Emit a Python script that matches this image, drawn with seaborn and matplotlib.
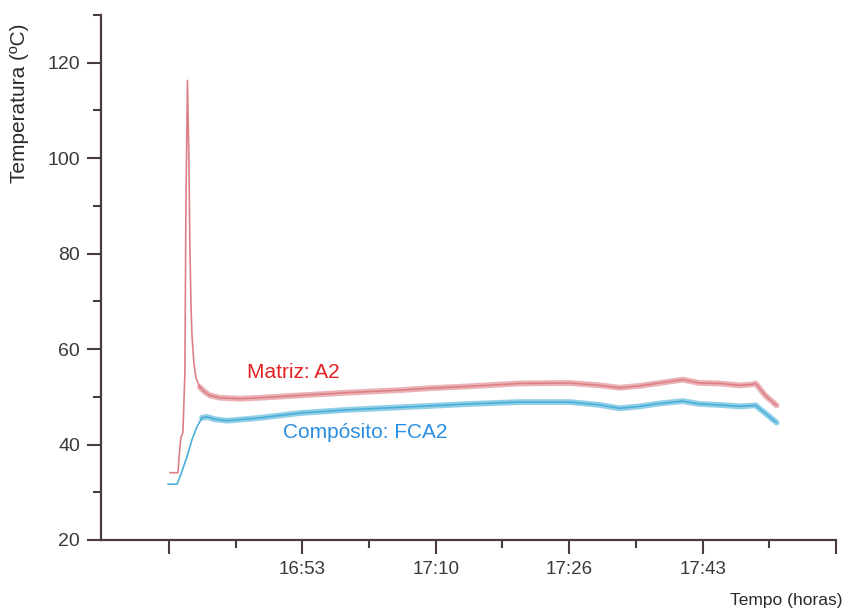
import matplotlib
matplotlib.use("Agg")
import matplotlib.pyplot as plt
from matplotlib.ticker import FixedLocator, MultipleLocator
import numpy as np
import pandas as pd
import seaborn as sns

# Time axis: minutes after 16:00
matriz_t = [36.79, 37.79, 37.92, 38.16, 38.41, 38.66, 38.79, 38.98, 39.16, 39.28,
            39.41, 39.54, 39.79, 40.04, 40.54, 41.16, 41.79, 43.03, 45.53, 48.03,
            53.02, 59.26, 65.51, 69.25, 74.25, 80.49, 86.73, 90.47, 92.97, 95.47,
            97.97, 100.84, 102.96, 105.46, 107.96, 109.46, 109.96, 111.21, 112.58]
matriz_temp = [34.1, 34.1, 37.0, 41.5, 42.5, 55.0, 90.0, 116.3, 100.0, 82.0,
               70.0, 63.0, 57.0, 54.0, 52.0, 51.0, 50.3, 49.8, 49.6, 49.8,
               50.3, 50.9, 51.4, 51.8, 52.2, 52.8, 52.9, 52.4, 51.9, 52.3,
               52.9, 53.6, 52.9, 52.8, 52.4, 52.6, 52.8, 50.2, 48.2]

composito_t = [36.54, 37.67, 38.04, 38.91, 39.54, 40.16, 40.79, 41.41, 42.41, 43.91,
               46.78, 48.03, 53.02, 59.26, 69.25, 74.25, 80.49, 86.73, 90.47, 92.97,
               95.47, 97.97, 100.84, 102.96, 105.46, 107.96, 109.96, 111.21, 112.58]
composito_temp = [31.7, 31.7, 33.2, 37.4, 41.0, 43.7, 45.6, 45.8, 45.3, 45.0,
                  45.4, 45.6, 46.6, 47.3, 48.1, 48.5, 48.9, 48.9, 48.3, 47.6,
                  48.0, 48.6, 49.1, 48.5, 48.3, 48.0, 48.2, 46.5, 44.6]

x_major = [36.667, 53.333, 70.0, 86.667, 103.333, 120.0]
x_labels = ["", "16:53", "17:10", "17:26", "17:43", ""]

df = pd.concat([
    pd.DataFrame({"t": matriz_t, "temp": matriz_temp, "amostra": "Matriz: A2"}),
    pd.DataFrame({"t": composito_t, "temp": composito_temp, "amostra": "Compósito: FCA2"}),
], ignore_index=True)

sns.set_theme(style="ticks")
plt.rcParams["font.family"] = ["Liberation Sans", "DejaVu Sans"]

W, H = 844, 610
fig = plt.figure(figsize=(W / 100, H / 100), dpi=100)
ax = fig.add_axes([101 / W, 1 - 540 / H, (836 - 101) / W, (540 - 15) / H])

red = "#dc8086"
blue = "#4aafd8"
palette = {"Matriz: A2": red, "Compósito: FCA2": blue}

sns.lineplot(data=df, x="t", y="temp", hue="amostra", palette=palette,
             linewidth=1.2, legend=False, ax=ax, sort=False, estimator=None)

# Wider, soft band over the steady part of each record
steady = df[df["t"] >= 40.5]
sns.lineplot(data=steady, x="t", y="temp", hue="amostra", palette=palette,
             linewidth=4.2, alpha=0.6, legend=False, ax=ax, sort=False,
             estimator=None)

ax.set_xlim(28.18, 120.0)
ax.set_ylim(20, 130)

ax.xaxis.set_major_locator(FixedLocator(x_major))
ax.set_xticklabels(x_labels)
ax.xaxis.set_minor_locator(FixedLocator([m + 8.333 for m in x_major[:-1]]))
ax.yaxis.set_major_locator(MultipleLocator(20))
ax.yaxis.set_minor_locator(FixedLocator([30, 50, 70, 90, 110, 130]))

spine_col = "#4a3a42"
for side in ["top", "right"]:
    ax.spines[side].set_visible(False)
for side in ["left", "bottom"]:
    ax.spines[side].set_color(spine_col)
    ax.spines[side].set_linewidth(1.6)

ax.tick_params(axis="both", which="major", length=10, width=1.5,
               color=spine_col, labelcolor="#3a3a3a", direction="out")
ax.tick_params(axis="both", which="minor", length=6, width=1.5,
               color=spine_col, direction="out")
ax.tick_params(axis="x", which="major", pad=5, labelsize=13.5)
ax.tick_params(axis="y", which="major", pad=5, labelsize=14)

ax.set_xlabel("")
ax.set_ylabel("")
fig.text(20 / W, 1 - 103 / H, "Temperatura (ºC)", rotation=90, ha="center",
         va="center", fontsize=15, color="#2a2a2a")
fig.text(842 / W, 1 - 600 / H, "Tempo (horas)", ha="right", va="center",
         fontsize=12.5, color="#2a2a2a")

ax.text(46.4, 54.0, "Matriz: A2", color="#e32222", fontsize=15,
        ha="left", va="baseline")
ax.text(50.9, 41.4, "Compósito: FCA2", color="#2a8fe0", fontsize=15,
        ha="left", va="baseline")

fig.savefig("out.png", dpi=100)
